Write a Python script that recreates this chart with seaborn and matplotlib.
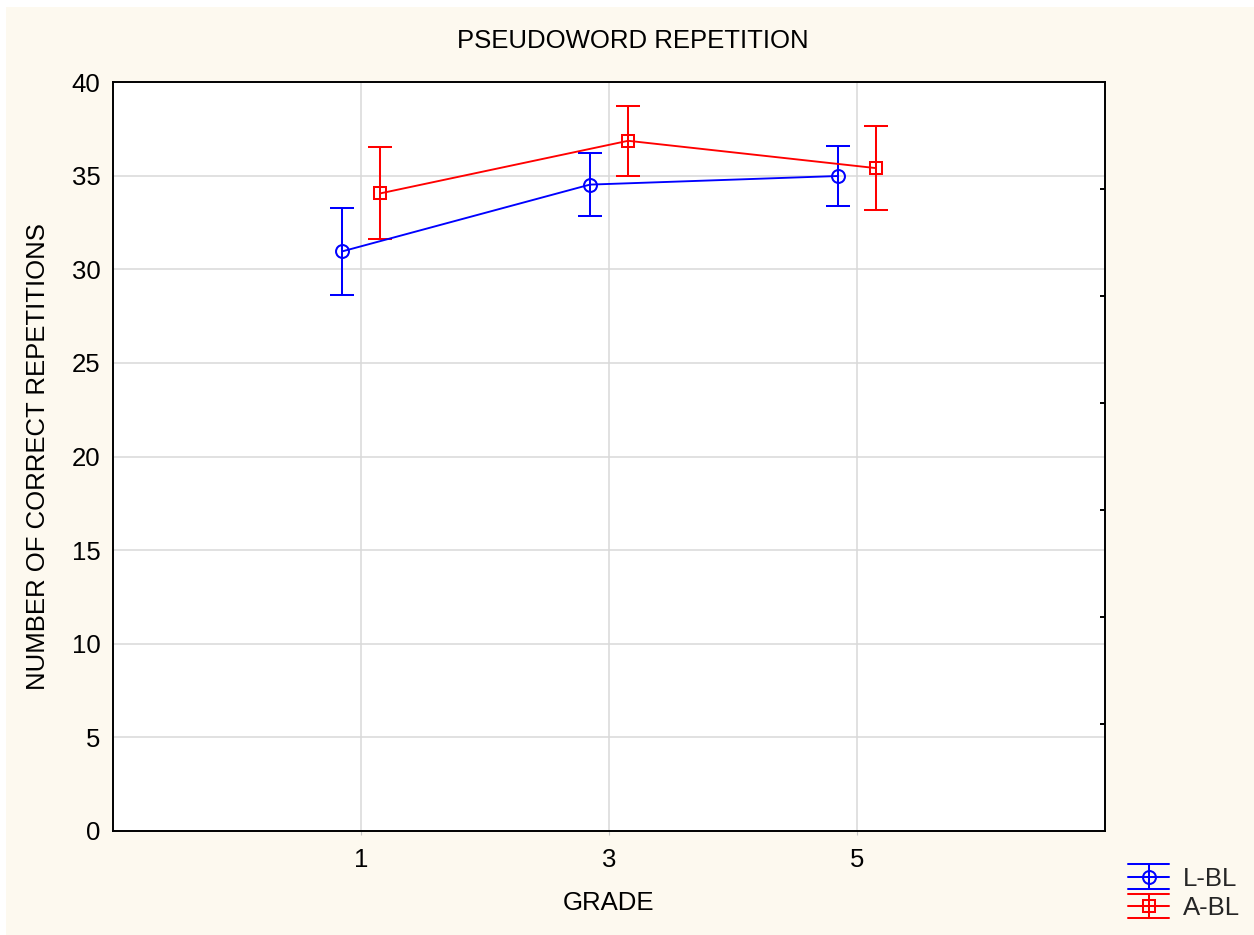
import matplotlib
matplotlib.use("Agg")
import matplotlib.pyplot as plt
from matplotlib.lines import Line2D
from matplotlib.legend_handler import HandlerBase
from matplotlib.patches import Rectangle
import numpy as np
import pandas as pd
import seaborn as sns

# Data: mean number of correct repetitions per grade, with error bar half-widths
grades = ["1", "3", "5"]
groups = ["L-BL", "A-BL"]
lbl_mean = [30.95, 34.52, 34.98]
lbl_err = [2.34, 1.70, 1.62]
abl_mean = [34.05, 36.86, 35.40]
abl_err = [2.46, 1.87, 2.23]

colors = {"L-BL": "#0000ff", "A-BL": "#ff0000"}
markers = {"L-BL": "o", "A-BL": "s"}
dodge = {"L-BL": -0.077, "A-BL": 0.077}

rows = []
for g, means, errs in (("L-BL", lbl_mean, lbl_err), ("A-BL", abl_mean, abl_err)):
    for i, (m, e) in enumerate(zip(means, errs)):
        rows.append({"grade": grades[i], "group": g, "idx": i + 1, "mean": m, "err": e})
df = pd.DataFrame(rows)
df["xpos"] = df["idx"] + df["group"].map(dodge)

sns.set_theme(style="whitegrid")
plt.rcParams["font.family"] = ["Liberation Sans", "DejaVu Sans"]
FS = 18.5
LW = 1.45
MS = 9.3

fig = plt.figure(figsize=(12.54, 9.35), dpi=100)
fig.patch.set_facecolor("white")
fig.patches.append(Rectangle((6 / 1254, 0), 1, 1 - 7 / 935, transform=fig.transFigure,
                             facecolor="#fdf9ef", edgecolor="none", zorder=-10))

ax = fig.add_axes([113 / 1254, 1 - 831 / 935, (1105 - 113) / 1254, (831 - 82) / 935])
ax.set_facecolor("white")

for g in groups:
    sub = df[df["group"] == g]
    ax.errorbar(sub["xpos"], sub["mean"], yerr=sub["err"], fmt="none",
                ecolor=colors[g], elinewidth=LW, capsize=8.8, capthick=LW, zorder=3)
    sns.lineplot(data=sub, x="xpos", y="mean", color=colors[g], marker=markers[g],
                 markersize=MS, markerfacecolor="none", markeredgecolor=colors[g],
                 markeredgewidth=LW, linewidth=1.35, errorbar=None, legend=False,
                 ax=ax, zorder=4)

ax.set_xlim(0, 4)
ax.set_ylim(0, 40)
ax.set_xticks([1, 2, 3])
ax.set_xticklabels(grades)
ax.set_yticks(np.arange(0, 41, 5))
ax.grid(True, color="#d9d9d9", linewidth=1.1)
ax.tick_params(axis="y", length=0, pad=9, labelsize=FS, labelcolor="black")
ax.tick_params(axis="x", length=3, width=0.8, color="#c8c8c8", direction="out",
               pad=9, labelsize=FS, labelcolor="black", bottom=True)
for s in ax.spines.values():
    s.set_visible(True)
    s.set_color("black")
    s.set_linewidth(1.4)

ax.set_xlabel("GRADE", fontsize=FS, color="black", labelpad=14)
ax.set_ylabel("NUMBER OF CORRECT REPETITIONS", fontsize=FS, color="black", labelpad=16)

# Short inward ticks on the right frame
ax2 = ax.twinx()
ax2.set_ylim(0, 7)
ax2.set_yticks(np.arange(1, 7))
ax2.grid(False)
ax2.tick_params(axis="y", right=True, direction="in", length=3.5, width=1.4,
                color="black", labelright=False)
for s in ax2.spines.values():
    s.set_visible(False)

fig.text(632.5 / 1254, 1 - 41 / 935, "PSEUDOWORD REPETITION", ha="center", va="center",
         fontsize=FS, color="black")


class ErrorbarHandle(HandlerBase):
    def create_artists(self, legend, orig_handle, xdescent, ydescent, width, height,
                       fontsize, trans):
        c = orig_handle.get_color()
        m = orig_handle.get_marker()
        x0 = -xdescent
        x1 = x0 + width
        xm = (x0 + x1) / 2
        yc = -ydescent + height / 2
        d = 8.9
        arts = []
        for yy in (yc - d, yc, yc + d):
            arts.append(Line2D([x0, x1], [yy, yy], color=c, lw=LW))
        arts.append(Line2D([xm, xm], [yc - d, yc + d], color=c, lw=LW))
        arts.append(Line2D([xm], [yc], marker=m, markersize=MS, markerfacecolor="none",
                           markeredgecolor=c, markeredgewidth=LW, linestyle="none"))
        for a in arts:
            a.set_transform(trans)
        return arts


handles = [Line2D([], [], color=colors[g], marker=markers[g]) for g in groups]
fig.legend(handles, groups, loc="center left", bbox_to_anchor=(1128 / 1254, 1 - 892.5 / 935),
           frameon=False, borderpad=0, borderaxespad=0, fontsize=FS, handlelength=1.6,
           handleheight=1.0, handletextpad=0.55, labelspacing=0.15,
           handler_map={Line2D: ErrorbarHandle()})

fig.savefig("out.png", dpi=100, facecolor=fig.get_facecolor())
